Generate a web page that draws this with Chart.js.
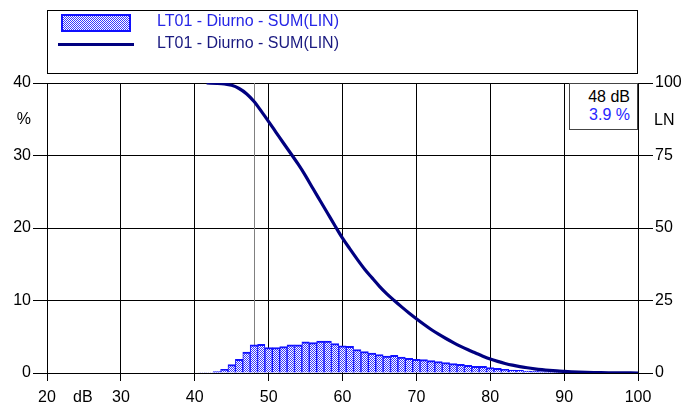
<!DOCTYPE html>
<html>
<head>
<meta charset="utf-8">
<script src="https://cdn.jsdelivr.net/npm/chart.js@4"></script>
<style>
  html, body { margin:0; padding:0; background:#fff; }
  #wrap { position:relative; width:693px; height:405px; font-family:"Liberation Sans", Arial, sans-serif; font-size:16px; }
  #c { position:absolute; left:0; top:0; }
  .t { position:absolute; line-height:18px; white-space:nowrap; }
  #legend { position:absolute; left:47px; top:10px; width:591px; height:64px; box-sizing:border-box; border:1px solid #000; }
  #swatch { position:absolute; left:61px; top:14px; width:70px; height:18px; box-sizing:border-box; border:2px solid #1010ff;
            background-image: repeating-conic-gradient(#3a3aff 0 25%, #ffffff 0 50%); background-size:2px 2px; }
  #lineSample { position:absolute; left:58px; top:43px; width:76px; height:3px; background:#000080; }
  #readout { position:absolute; left:569px; top:83px; width:69px; height:47px; box-sizing:border-box; border:1px solid #444; background:#fff; }
</style>
</head>
<body>
<div id="wrap">
  <canvas id="c" width="693" height="405"></canvas>
  <div id="legend"></div>
  <div id="swatch"></div>
  <div id="lineSample"></div>
  <div class="t" style="left:157px;top:12px;color:#2626e6;">LT01 - Diurno - SUM(LIN)</div>
  <div class="t" style="left:157px;top:34px;color:#1a1a80;">LT01 - Diurno - SUM(LIN)</div>
  <div id="readout"></div>
  <div class="t" style="right:63px;top:88px;color:#000;">48 dB</div>
  <div class="t" style="right:63px;top:106px;color:#2626ff;">3.9 %</div>
  <div class="t" style="right:662px;top:110px;color:#000;">%</div>
  <div class="t" style="left:654px;top:111px;color:#000;">LN</div>
  <div class="t" style="left:73px;top:388px;color:#000;">dB</div>
</div>
<script>
// ---- data ----
const levels = [41,42,43,44,45,46,47,48,49,50,51,52,53,54,55,56,57,58,59,60,61,62,63,64,65,66,67,68,69,70,
                71,72,73,74,75,76,77,78,79,80,81,82,83,84,85,86,87,88,89,90,91,92,93,94,95,96,97,98,99];
const distribution = [0.03,0.05,0.18,0.5,1.15,1.9,2.9,3.9,3.96,3.5,3.5,3.64,3.87,3.9,4.3,4.2,4.4,4.4,4.05,3.75,
                3.67,3.24,2.95,2.74,2.55,2.32,2.44,2.18,2.03,1.89,1.84,1.7,1.57,1.43,1.29,1.2,1.06,0.92,0.92,0.74,
                0.65,0.5,0.41,0.37,0.28,0.23,0.18,0.12,0.1,0.08,0.06,0.05,0.04,0.03,0.02,0.02,0.01,0.01,0.01];
const lnLevels = [41.6,43,44,45,46,47,48,49,50,51,52,53,54,55,56,57,58,59,60,61,62,63,64,65,66,67,68,69,70,
                71,72,73,74,75,76,77,78,79,80,81,82,83,84,85,86,87,88,89,90,91,92,93,94,95,96,97,98,99,100];
const lnValues = [100,99.9,99.7,99.2,98.1,96.3,93.7,90.3,86.7,83.0,79.3,75.7,72.0,68.0,63.6,59.3,55.0,50.7,46.5,
                42.8,39.2,35.8,32.8,29.9,27.3,25.0,22.8,20.7,18.7,16.8,15.0,13.4,11.9,10.5,9.2,8.0,6.9,5.8,4.8,
                4.0,3.3,2.7,2.2,1.8,1.45,1.15,0.9,0.7,0.55,0.42,0.32,0.24,0.17,0.12,0.08,0.05,0.03,0.01,0];
const xTicks = [20,30,40,50,60,70,80,90,100];
const leftTicks = [0,10,20,30,40];
const rightTicks = [0,25,50,75,100];
const cursorLevel = 48;

// ---- pattern ----
const pc = document.createElement('canvas');
pc.width = 2; pc.height = 2;
const pctx = pc.getContext('2d');
pctx.fillStyle = '#ffffff'; pctx.fillRect(0,0,2,2);
pctx.fillStyle = '#3a3aff'; pctx.fillRect(0,0,1,1); pctx.fillRect(1,1,1,1);
const ctx = document.getElementById('c').getContext('2d');
const pattern = ctx.createPattern(pc, 'repeat');

const cursorPlugin = {
  id: 'cursor',
  beforeDatasetsDraw(chart) {
    const x = chart.scales.x.getPixelForValue(cursorLevel);
    const a = chart.chartArea;
    const c = chart.ctx;
    c.save();
    c.strokeStyle = '#808080';
    c.lineWidth = 1;
    c.beginPath();
    c.moveTo(Math.round(x) + 0.5, a.top);
    c.lineTo(Math.round(x) + 0.5, a.bottom);
    c.stroke();
    c.restore();
  }
};

const font = { family: '"Liberation Sans", Arial, sans-serif', size: 16 };

new Chart(ctx, {
  type: 'bar',
  data: {
    datasets: [
      {
        type: 'line',
        label: 'LT01 - Diurno - SUM(LIN)',
        data: lnLevels.map((l, i) => ({ x: l, y: lnValues[i] })),
        yAxisID: 'y2',
        borderColor: '#000080',
        borderWidth: 3.2,
        pointRadius: 0,
        cubicInterpolationMode: 'monotone',
        fill: false,
        order: 1
      },
      {
        type: 'bar',
        label: 'LT01 - Diurno - SUM(LIN)',
        data: levels.map((l, i) => ({ x: l, y: distribution[i] })),
        yAxisID: 'y',
        backgroundColor: pattern,
        borderColor: '#1010ff',
        borderWidth: { top: 2, left: 1, right: 1, bottom: 0 },
        barPercentage: 1,
        categoryPercentage: 1,
        order: 2
      }
    ]
  },
  options: {
    responsive: false,
    devicePixelRatio: 1,
    animation: false,
    layout: { padding: { top: 83, left: 0, right: 0, bottom: 0 } },
    plugins: { legend: { display: false }, tooltip: { enabled: false } },
    scales: {
      x: {
        type: 'linear', min: 20, max: 100, offset: false,
        afterBuildTicks: s => { s.ticks = xTicks.map(v => ({ value: v })); },
        afterFit: s => { s.height = 32; },
        grid: { color: '#000', lineWidth: 1, tickLength: 8, offset: false, drawTicks: true, tickColor: '#000' },
        border: { display: true, color: '#000', width: 1 },
        ticks: { color: '#000', font, padding: 7, maxRotation: 0, autoSkip: false }
      },
      y: {
        type: 'linear', position: 'left', min: 0, max: 40,
        afterBuildTicks: s => { s.ticks = leftTicks.map(v => ({ value: v })); },
        afterFit: s => { s.width = 47; },
        grid: { color: '#000', lineWidth: 1, tickLength: 14, tickColor: '#000' },
        border: { display: true, color: '#000', width: 1 },
        ticks: { color: '#000', font, padding: 2 }
      },
      y2: {
        type: 'linear', position: 'right', min: 0, max: 100,
        afterBuildTicks: s => { s.ticks = rightTicks.map(v => ({ value: v })); },
        afterFit: s => { s.width = 55; },
        grid: { drawOnChartArea: false, color: '#000', tickLength: 15, tickColor: '#000' },
        border: { display: true, color: '#000', width: 1 },
        ticks: { color: '#000', font, padding: 2 }
      }
    }
  },
  plugins: [cursorPlugin]
});
</script>
</body>
</html>
